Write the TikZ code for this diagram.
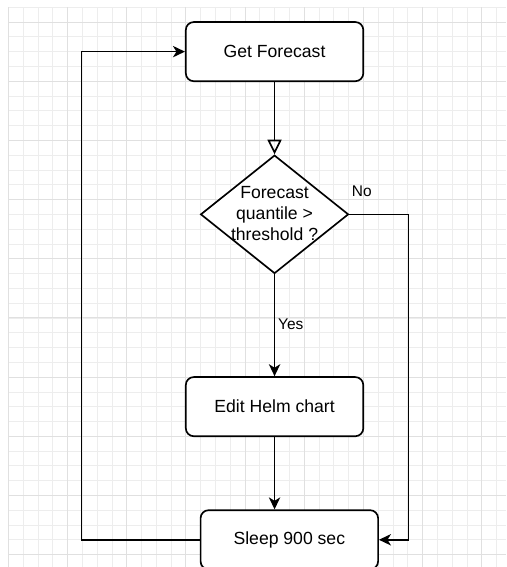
\documentclass[tikz,border=0pt]{standalone}
\usepackage{fontspec}
\setmainfont{Liberation Sans}
\usetikzlibrary{arrows.meta,shapes.geometric}
\tikzset{every picture/.style={line width=1.25pt}}
\tikzset{
  stepbox/.style={draw,rectangle,rounded corners=6pt,fill=white,
    minimum width=4.68cm,minimum height=1.56cm,inner sep=0pt,
    font=\fontsize{13.2}{16}\selectfont},
  decision/.style={draw,diamond,fill=white,minimum width=3.9cm,
    minimum height=3.12cm,inner sep=0pt},
  lbl/.style={font=\fontsize{11.6}{14}\selectfont,inner sep=0pt},
  flow/.style={-{Stealth[length=9pt,width=8.5pt,inset=2.6pt]}},
  gridminor/.style={line width=0.5pt,black!7},
  gridmajor/.style={line width=0.6pt,black!12}
}

\begin{document}
\begin{tikzpicture}[x=0.39cm,y=-0.39cm]
\useasboundingbox (-0.56,-0.49) rectangle (33.65,37.84);
% background grid
\foreach \i in {0,...,33} \draw[gridminor] (\i,0) -- (\i,37.84);
\foreach \j in {0,...,37} \draw[gridminor] (0,\j) -- (33.65,\j);
\foreach \i in {0,4,...,32} \draw[gridmajor] (\i,0) -- (\i,37.84);
\foreach \j in {1,5,...,37} \draw[gridmajor] (0,\j) -- (33.65,\j);
% steps
\node[stepbox] (fc) at (18,3) {Get Forecast};
\node[decision] (check) at (18,14) {};
\node[align=center,font=\fontsize{13.2}{16}\selectfont] (checktxt) at (18,13.95)
  {Forecast\\quantile >\\threshold ?};
\node[stepbox] (edit) at (18,27) {Edit Helm chart};
\node[stepbox] (sleep) at (19,36) {Sleep 900 sec};
% labels
\node[lbl] (no) at (23.9,12.45) {No};
\node[lbl] (yes) at (19.1,21.45) {Yes};
% connectors
\draw[-{Triangle[open,length=11pt,width=10.5pt]}] (fc) -- (check);
\draw[flow] (check.east) -- ++(4,0) |- (sleep.east);
\draw[flow] (check) -- (edit);
\draw[flow] (edit) -- (edit.south |- sleep.north);
\draw[flow] (sleep.west) -- ++(-8,0) |- (fc.west);
\end{tikzpicture}
\end{document}
